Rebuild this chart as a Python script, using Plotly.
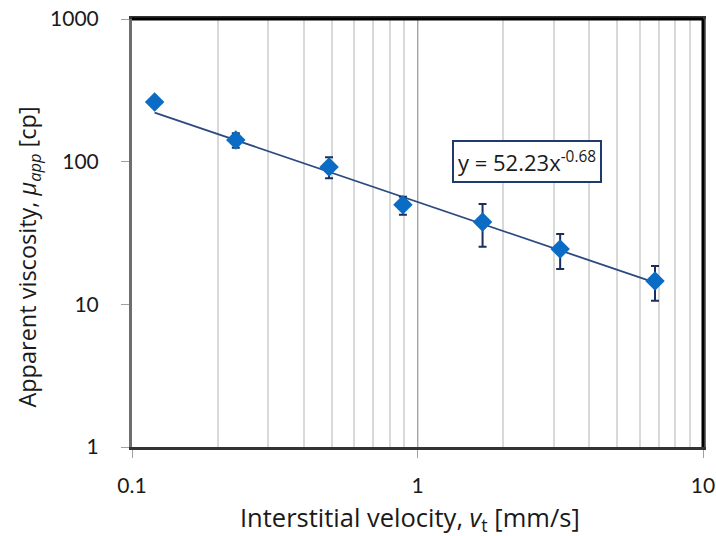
import numpy as np
import plotly.graph_objects as go

velocity = [0.120, 0.231, 0.490, 0.889, 1.69, 3.16, 6.79]
viscosity = [262, 142, 91.8, 49.8, 37.8, 24.4, 14.6]
err_plus = [8, 16, 15.7, 6.9, 12.7, 6.7, 4.0]
err_minus = [8, 17, 15.3, 7.3, 12.5, 6.7, 4.0]
fit_a = 52.23
fit_b = -0.68
x_ticks = [0.1, 1, 10]
y_ticks = [1, 10, 100, 1000]
x_title = "Interstitial velocity, <i>v</i><sub>t</sub> [mm/s]"
y_title = "Apparent viscosity, <i>μ</i><sub><i>app</i></sub> [cp]"

fit_x = np.logspace(np.log10(min(velocity)), np.log10(max(velocity)), 50)
fit_y = fit_a * fit_x ** fit_b

FONT = "Lato"
TFONT = "Open Sans"
TXT = "#1a1a1a"

fig = go.Figure()
fig.add_trace(go.Scatter(
    x=fit_x, y=fit_y, mode="lines",
    line=dict(color="#2B4A80", width=1.8), showlegend=False, hoverinfo="skip"))
fig.add_trace(go.Scatter(
    x=velocity, y=viscosity, mode="markers",
    marker=dict(symbol="diamond", size=15, color="#0A6CC4"),
    error_y=dict(type="data", symmetric=False, array=err_plus, arrayminus=err_minus,
                 color="#1B2F5E", thickness=2, width=4),
    showlegend=False))

fig.add_annotation(
    x=np.log10(2.41), y=np.log10(99.6), xref="x", yref="y",
    text=f"y = {fit_a}x<sup>{fit_b}</sup>", showarrow=False,
    font=dict(family=TFONT, size=22, color=TXT),
    bordercolor="#1F3A6E", borderwidth=2, borderpad=4, bgcolor="white")

# axis titles
fig.add_annotation(
    x=0.487, y=-0.166, xref="paper", yref="paper", xanchor="center", yanchor="middle",
    text=x_title, showarrow=False, font=dict(family=TFONT, size=25.5, color=TXT))
fig.add_annotation(
    x=-0.181, y=0.444, xref="paper", yref="paper", xanchor="center", yanchor="middle",
    text=y_title, textangle=-90, showarrow=False,
    font=dict(family=TFONT, size=23.5, color=TXT))

# top and right frame edges drawn black
fig.add_shape(type="line", xref="paper", yref="paper", x0=0, x1=1, y0=1, y1=1,
              line=dict(color="black", width=3))
fig.add_shape(type="line", xref="paper", yref="paper", x0=1, x1=1, y0=0, y1=1,
              line=dict(color="black", width=3))

fig.update_xaxes(
    type="log", range=[-1, 1], automargin=False,
    tickvals=x_ticks, ticktext=[str(v) for v in x_ticks],
    ticks="outside", ticklen=8, tickcolor="#A0A0A0", ticklabelstandoff=10,
    showgrid=True, gridcolor="#A6A6A6", gridwidth=1,
    minor=dict(dtick="D1", showgrid=True, gridcolor="#D9D9D9", gridwidth=1.5, ticks=""),
    showline=True, linecolor="#333333", linewidth=2.5, mirror=True,
    tickfont=dict(family=FONT, size=21, color=TXT),
    zeroline=False)
fig.update_yaxes(
    type="log", range=[0, 3], automargin=False,
    tickvals=y_ticks, ticktext=[str(v) for v in y_ticks],
    ticks="outside", ticklen=8, tickcolor="#A0A0A0", ticklabelstandoff=18,
    showgrid=False,
    showline=True, linecolor="#6E6E6E", linewidth=3, mirror=True,
    tickfont=dict(family=FONT, size=21, color=TXT),
    zeroline=False)

fig.update_layout(
    width=716, height=536,
    margin=dict(l=132, r=13, t=19, b=89),
    plot_bgcolor="white", paper_bgcolor="white",
)

fig.write_html("out.html", config={"displayModeBar": False},
               post_script="document.body.style.margin='0';document.body.style.overflow='hidden';")
